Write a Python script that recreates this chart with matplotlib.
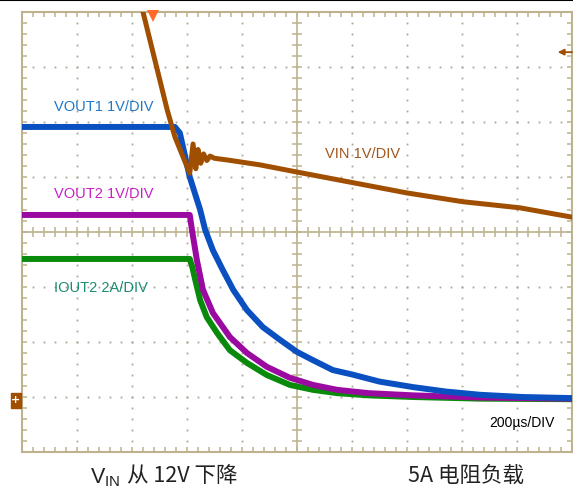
import numpy as np
import matplotlib.pyplot as plt
from matplotlib.patches import Rectangle

# 示波器截图: 横轴 10 格 (200us/格), 纵轴 8 格, 数值以"格"为单位
t_vout1 = [0, 2.78, 2.87, 3.05, 3.24, 3.33, 3.47, 3.65, 3.84, 4.09, 4.38, 4.69, 5.0, 5.29,
           5.65, 6.0, 6.5, 7.11, 7.7, 8.33, 9.1, 10]
v_vout1 = [5.91, 5.91, 5.8, 5.0, 4.4, 4.04, 3.67, 3.31, 2.95, 2.58, 2.27, 2.04, 1.82, 1.67,
           1.49, 1.41, 1.28, 1.18, 1.1, 1.04, 1.0, 0.98]

t_vout2 = [0, 3.05, 3.09, 3.18, 3.29, 3.47, 3.78, 4.09, 4.45, 4.87, 5.29, 5.73, 6.3, 7.11, 8.33, 10]
v_vout2 = [4.31, 4.31, 4.04, 3.49, 2.95, 2.53, 2.09, 1.8, 1.55, 1.35, 1.22, 1.13, 1.07, 1.03, 0.99, 0.97]

t_iout2 = [0, 3.05, 3.1, 3.15, 3.24, 3.36, 3.55, 3.78, 4.09, 4.45, 4.87, 5.29, 5.73, 6.3, 7.11, 8.33, 10]
v_iout2 = [3.51, 3.51, 3.35, 3.13, 2.76, 2.45, 2.16, 1.85, 1.62, 1.4, 1.22, 1.13, 1.07, 1.03, 1.0, 0.97, 0.96]

t_vin = [2.1, 2.2, 2.64, 2.78, 2.93, 3.05, 3.11, 3.16, 3.2, 3.25, 3.3, 3.36, 3.42, 3.5, 3.73,
         4.33, 5.0, 7.0, 8.02, 9.05, 10]
v_vin = [8.4, 8.0, 6.22, 5.73, 5.36, 5.07, 5.6, 5.15, 5.5, 5.25, 5.42, 5.3, 5.38, 5.34, 5.31,
         5.22, 5.09, 4.71, 4.55, 4.44, 4.27]

W, H = 573, 494
fig = plt.figure(figsize=(W / 100, H / 100), dpi=100)
ax = fig.add_axes([22 / W, (H - 452) / H, 550 / W, 440 / H])
ax.set_xlim(0, 10)
ax.set_ylim(0, 8)

frame = '#bdb38e'
for s in ax.spines.values():
    s.set_color(frame)
    s.set_linewidth(1.5)

# 边框刻度
ax.set_xticks(np.arange(0, 10.01, 1))
ax.set_yticks(np.arange(0, 8.01, 1))
ax.set_xticks(np.arange(0, 10.01, 0.2), minor=True)
ax.set_yticks(np.arange(0, 8.01, 0.2), minor=True)
ax.tick_params(which='both', direction='in', length=3.6, width=1.1, color=frame,
               top=True, right=True, labelbottom=False, labelleft=False)

# 网格点
gx = [1, 2, 3, 4, 6, 7, 8, 9]
gy = [1, 2, 3, 5, 6, 7]
for x in gx:
    yy = np.arange(0.2, 8, 0.2)
    ax.plot([x] * len(yy), yy, ls='none', marker='s', ms=1.3, mew=0, color='#aaa698')
for y in gy:
    xx = np.arange(0.2, 10, 0.2)
    ax.plot(xx, [y] * len(xx), ls='none', marker='s', ms=1.3, mew=0, color='#aaa698')

# 中心十字线
ax.axhline(4, color=frame, lw=1.2)
ax.axvline(5, color=frame, lw=1.2)
xx = np.arange(0, 10.01, 0.2)
ax.plot(xx, [4] * len(xx), ls='none', marker='|', ms=7, mew=1.1, color=frame)
yy = np.arange(0, 8.01, 0.2)
ax.plot([5] * len(yy), yy, ls='none', marker='_', ms=7, mew=1.1, color=frame)

# 波形
ax.plot(t_iout2, v_iout2, color='#0a8a0a', lw=4.3, zorder=3, solid_joinstyle='round')
ax.plot(t_vout2, v_vout2, color='#9a0aa0', lw=4.3, zorder=4, solid_joinstyle='round')
ax.plot(t_vout1, v_vout1, color='#0a50c0', lw=4.3, zorder=5, solid_joinstyle='round')
ax.plot(t_vin, v_vin, color='#a04e00', lw=3.6, zorder=6, solid_joinstyle='round')

lab = dict(fontfamily='Liberation Sans', fontsize=10.5, va='center', ha='left')
ax.text(0.58, 6.27, 'VOUT1 1V/DIV', color='#1e78c8', **lab)
ax.text(0.58, 4.7, 'VOUT2 1V/DIV', color='#c81ec8', **lab)
ax.text(0.58, 2.98, 'IOUT2 2A/DIV', color='#1a8a70', **lab)
ax.text(5.51, 5.42, 'VIN 1V/DIV', color='#a0561c', **lab)
ax.text(8.49, 0.53, '200µs/DIV', color='black', fontfamily='Liberation Sans',
        fontsize=10, va='center', ha='left')

# 触发标记
ax.plot([2.38], [7.93], marker='v', ms=8, color='#ff6a28', mew=0, clip_on=False, zorder=7)
ax.annotate('', xy=(9.74, 7.27), xytext=(10.0, 7.27),
            arrowprops=dict(arrowstyle='-|>', color='#a04e00', lw=1.3, mutation_scale=9,
                            shrinkA=0, shrinkB=0),
            annotation_clip=False)
fig.patches.append(Rectangle((11 / W, (H - 408) / H), 10 / W, 15 / H,
                             transform=fig.transFigure, color='#a04e00'))
fig.text(16 / W, 1 - 400 / H, '+', color='white', fontsize=8, ha='center', va='center',
         fontweight='bold')

# 顶部黑线
fig.add_artist(plt.Line2D([0, 1], [1 - 0.5 / H, 1 - 0.5 / H], color='black', lw=1.5,
                          transform=fig.transFigure))

# 底部说明
cjk = ['Noto Sans CJK SC', 'DejaVu Sans']
fig.text(120 / W, 1 - 478 / H, r'$\mathregular{V_{IN}}$', fontsize=15.5, ha='right',
         va='center', color='#222222', fontfamily='Liberation Sans')
fig.text(127 / W, 1 - 476 / H, '从 12V 下降', fontsize=15.5, ha='left', va='center',
         color='#222222', fontfamily=cjk)
fig.text(466 / W, 1 - 476 / H, '5A 电阻负载', fontsize=15.5, ha='center', va='center',
         color='#222222', fontfamily=cjk)

fig.savefig('out.png', dpi=100)
